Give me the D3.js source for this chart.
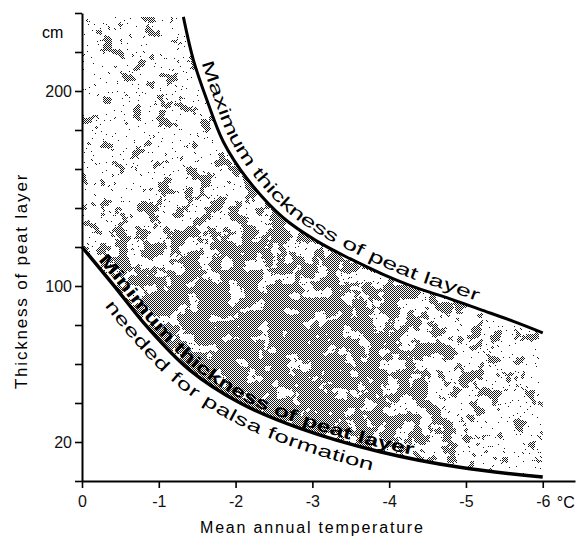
<!DOCTYPE html>
<html>
<head>
<meta charset="utf-8">
<script src="https://cdn.jsdelivr.net/npm/d3@7"></script>
<style>
  html, body { margin: 0; padding: 0; background: #fff; }
  svg { display: block; font-family: "Liberation Sans", Arial, Helvetica, sans-serif; }
</style>
</head>
<body>
<div id="chart"></div>
<script>
// axis values
const xTicks = [0, -1, -2, -3, -4, -5, -6];
const yTicks = [0, 20, 40, 60, 80, 100, 120, 140, 160, 180, 200, 220, 240];
const yLabelled = [20, 100, 200];

// maximum thickness of peat layer (temp in °C, thickness in cm)
const maxTemp  = [-1.32, -1.45, -1.63, -1.84, -2.15, -2.62, -3.06, -3.49, -3.92, -4.36, -4.75, -5.18, -5.61, -6.0];
const maxThick = [238, 216, 195, 174, 155, 135, 123, 114, 106, 99, 94, 88, 82, 76];

// minimum thickness needed for palsa formation
const minTemp  = [0, -0.4, -0.85, -1.4, -2.06, -2.84, -3.88, -4.92, -6.0];
const minThick = [120, 101, 79, 57, 40, 27, 15, 7, 2];

const width = 579;
const height = 538;

const svg = d3.select('#chart')
              .append('svg')
              .attr('width', width)
              .attr('height', height);

const x = d3.scaleLinear().domain([0, -6.42]).range([82, 575]);
const y = d3.scaleLinear().domain([0, 240]).range([481, 13]);

const maxPts = maxTemp.map((t, i) => [t, maxThick[i]]);
const minPts = minTemp.map((t, i) => [t, minThick[i]]);

const line = d3.line()
               .x((d) => x(d[0]))
               .y((d) => y(d[1]))
               .curve(d3.curveCatmullRom.alpha(0.5));

const defs = svg.append('defs');

// checker of single pixels, like the printed screen
const checker = defs.append('pattern')
                    .attr('id', 'checker')
                    .attr('patternUnits', 'userSpaceOnUse')
                    .attr('width', 2)
                    .attr('height', 2);
checker.append('rect').attr('x', 0).attr('y', 0).attr('width', 1).attr('height', 1).attr('fill', '#1a1a1a');
checker.append('rect').attr('x', 1).attr('y', 1).attr('width', 1).attr('height', 1).attr('fill', '#1a1a1a');

// where the screen is dense
const grad = defs.append('radialGradient')
                 .attr('id', 'density')
                 .attr('gradientUnits', 'userSpaceOnUse')
                 .attr('cx', 245).attr('cy', 372).attr('r', 290)
                 .attr('gradientTransform', 'translate(245 372) scale(1 0.8) translate(-245 -372)');
grad.append('stop').attr('offset', 0).attr('stop-color', '#fff').attr('stop-opacity', 0.88);
grad.append('stop').attr('offset', 0.35).attr('stop-color', '#fff').attr('stop-opacity', 0.78);
grad.append('stop').attr('offset', 0.6).attr('stop-color', '#fff').attr('stop-opacity', 0.52);
grad.append('stop').attr('offset', 0.85).attr('stop-color', '#fff').attr('stop-opacity', 0.22);
grad.append('stop').attr('offset', 1).attr('stop-color', '#fff').attr('stop-opacity', 0.06);

const mottle = defs.append('filter')
                   .attr('id', 'mottle')
                   .attr('filterUnits', 'userSpaceOnUse')
                   .attr('x', 0).attr('y', 0).attr('width', width).attr('height', height);
mottle.append('feTurbulence')
      .attr('type', 'fractalNoise').attr('baseFrequency', 0.07)
      .attr('numOctaves', 3).attr('seed', 7).attr('result', 'noise');
mottle.append('feColorMatrix')
      .attr('in', 'noise').attr('type', 'matrix')
      .attr('values', '0 0 0 0 0  0 0 0 0 0  0 0 0 0 0  1 0 0 0 0')
      .attr('result', 'na');
mottle.append('feComposite')
      .attr('in', 'SourceGraphic').attr('in2', 'na')
      .attr('operator', 'arithmetic')
      .attr('k1', 0).attr('k2', 1).attr('k3', 3).attr('k4', -1.5)
      .attr('result', 'sum');
const ct = mottle.append('feComponentTransfer').attr('in', 'sum');
ct.append('feFuncA').attr('type', 'discrete').attr('tableValues', '0 1');
mottle.append('feColorMatrix')
      .attr('type', 'matrix')
      .attr('values', '0 0 0 0 1  0 0 0 0 1  0 0 0 0 1  0 0 0 1 0');

// fine specks everywhere
const speck = defs.append('filter')
                  .attr('id', 'speck')
                  .attr('filterUnits', 'userSpaceOnUse')
                  .attr('x', 0).attr('y', 0).attr('width', width).attr('height', height);
speck.append('feTurbulence')
     .attr('type', 'fractalNoise').attr('baseFrequency', 0.35)
     .attr('numOctaves', 2).attr('seed', 3).attr('result', 'noise');
speck.append('feColorMatrix')
     .attr('in', 'noise').attr('type', 'matrix')
     .attr('values', '0 0 0 0 1  0 0 0 0 1  0 0 0 0 1  4 0 0 0 -2.4');
const ct2 = speck.append('feComponentTransfer');
ct2.append('feFuncA').attr('type', 'discrete').attr('tableValues', '0 1');

const m1 = defs.append('mask')
               .attr('id', 'mottleMask')
               .attr('maskUnits', 'userSpaceOnUse')
               .attr('x', 0).attr('y', 0).attr('width', width).attr('height', height);
m1.append('rect').attr('width', width).attr('height', height)
  .attr('fill', 'url(#density)').attr('filter', 'url(#mottle)');

const m2 = defs.append('mask')
               .attr('id', 'speckMask')
               .attr('maskUnits', 'userSpaceOnUse')
               .attr('x', 0).attr('y', 0).attr('width', width).attr('height', height);
m2.append('rect').attr('width', width).attr('height', height)
  .attr('fill', '#fff').attr('filter', 'url(#speck)');

// shaded field between the two curves
const regionPath = 'M' + x(0) + ',' + y(maxThick[0]) +
                   line(maxPts).replace(/^M/, 'L') +
                   line(minPts.slice().reverse()).replace(/^M/, 'L') + 'Z';

defs.append('clipPath').attr('id', 'field')
    .append('path').attr('d', regionPath);

const field = svg.append('g').attr('clip-path', 'url(#field)');
field.append('rect')
     .attr('width', width).attr('height', height)
     .attr('fill', 'url(#checker)')
     .attr('mask', 'url(#mottleMask)');
field.append('rect')
     .attr('width', width).attr('height', height)
     .attr('fill', 'url(#checker)')
     .attr('mask', 'url(#speckMask)');

// axes
const xAxis = svg.append('g')
                 .attr('transform', 'translate(0,' + y(0) + ')')
                 .call(d3.axisBottom(x)
                         .tickValues(xTicks)
                         .tickSize(7)
                         .tickSizeOuter(0)
                         .tickPadding(8)
                         .tickFormat((d) => d === 0 ? '0' : '-' + Math.abs(d)));

const yAxis = svg.append('g')
                 .attr('transform', 'translate(' + x(0) + ',0)')
                 .call(d3.axisLeft(y)
                         .tickValues(yTicks)
                         .tickSize(7)
                         .tickSizeOuter(0)
                         .tickPadding(3)
                         .tickFormat((d) => yLabelled.includes(d) ? d : ''));

svg.selectAll('.domain').attr('stroke', '#000').attr('stroke-width', 2);
svg.selectAll('.tick line').attr('stroke', '#000').attr('stroke-width', 1.6);
svg.selectAll('.tick text')
   .attr('fill', '#111')
   .style('font-size', '16px')
   .style('font-family', '"Liberation Sans", Arial, sans-serif');

svg.append('text')
   .attr('x', x(-6) + 23)
   .attr('y', 508)
   .attr('text-anchor', 'middle')
   .style('font-size', '16px')
   .text('°C');

svg.append('text')
   .attr('x', 42)
   .attr('y', 38)
   .style('font-size', '16px')
   .text('cm');

svg.append('text')
   .attr('x', (x(0) + x(-6)) / 2)
   .attr('y', 533)
   .attr('text-anchor', 'middle')
   .style('font-size', '16px')
   .style('letter-spacing', '1.8px')
   .text('Mean annual temperature');

svg.append('text')
   .attr('transform', 'translate(27,281) rotate(-90)')
   .attr('text-anchor', 'middle')
   .style('font-size', '17px')
   .style('letter-spacing', '1.8px')
   .text('Thickness of peat layer');

// curves
const maxLine = svg.append('path')
                   .attr('id', 'maxCurve')
                   .attr('d', line(maxPts))
                   .attr('fill', 'none')
                   .attr('stroke', '#000')
                   .attr('stroke-width', 3);

const minLine = svg.append('path')
                   .attr('id', 'minCurve')
                   .attr('d', line(minPts))
                   .attr('fill', 'none')
                   .attr('stroke', '#000')
                   .attr('stroke-width', 3.5);

// offset along a curve where it reaches a given temperature
const offsetAt = (node, temp) => {
  const target = x(temp);
  let lo = 0;
  let hi = node.getTotalLength();
  for (let i = 0; i < 30; i++) {
    const mid = (lo + hi) / 2;
    if (node.getPointAtLength(mid).x < target) lo = mid;
    else hi = mid;
  }
  return lo;
};

const curveLabel = (node, id, label, t0, t1, dy, weight) => {
  const a = offsetAt(node, t0);
  const b = offsetAt(node, t1);
  svg.append('text')
     .attr('dy', dy)
     .style('font-size', '17px')
     .style('font-weight', weight)
     .append('textPath')
     .attr('href', '#' + id)
     .attr('startOffset', a)
     .attr('textLength', b - a)
     .attr('lengthAdjust', 'spacingAndGlyphs')
     .text(label);
};

curveLabel(maxLine.node(), 'maxCurve', 'Maximum thickness of peat layer', -1.47, -5.12, -7, 'normal');
curveLabel(minLine.node(), 'minCurve', 'Minimum thickness of peat layer', -0.17, -4.3, -4, 'bold');
curveLabel(minLine.node(), 'minCurve', 'needed for palsa formation', -0.5, -3.84, 20, 'normal');
</script>
</body>
</html>
